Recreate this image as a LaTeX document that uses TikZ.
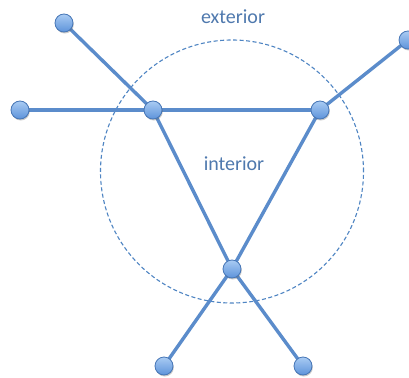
\documentclass[tikz,border=0pt]{standalone}
\usepackage{fontspec}
\setmainfont{Carlito}
\usetikzlibrary{shadows}
\definecolor{edgeblue}{HTML}{5B8CCB}
\definecolor{txtblue}{HTML}{4F79AE}
\definecolor{nodetop}{HTML}{A9CBF3}
\definecolor{nodebot}{HTML}{5D93DA}
\definecolor{nodeline}{HTML}{4676B6}
\definecolor{circblue}{HTML}{4F85C3}
\tikzset{
  vtx/.style={circle, minimum size=18pt, inner sep=0pt, draw=nodeline, line width=0.8pt,
    top color=nodetop, bottom color=nodebot,
    drop shadow={opacity=0.35, shadow xshift=0.8pt, shadow yshift=-1.5pt, fill=black!60}},
  edge/.style={draw=edgeblue, line width=3.4pt},
  ring/.style={draw=circblue, line width=1.1pt, dash pattern=on 4pt off 2.5pt},
  lbl/.style={text=txtblue, font=\fontsize{20}{24}\selectfont, inner sep=0pt}
}
\begin{document}
\begin{tikzpicture}[x=1pt, y=-1pt]
\useasboundingbox (0,0) rectangle (409,377);
\fill[white] (0,0) rectangle (409,377);
\node[ring, circle, minimum size=263pt, inner sep=0pt] (ring) at (232,171.5) {};
\node[lbl] (ext) at (233,17) {exterior};
\node[lbl] (int) at (234,164) {interior};
\coordinate (ptl) at (64,23);
\coordinate (pl) at (20,110);
\coordinate (pa) at (153,110);
\coordinate (pb) at (320,110);
\coordinate (ptr) at (408,40);
\coordinate (pc) at (232,269);
\coordinate (pbl) at (164,366);
\coordinate (pbr) at (303,366);
\path[edge] (ptl) -- (pa);
\path[edge] (pl) -- (pa);
\path[edge] (pa) -- (pb);
\path[edge] (pb) -- (ptr);
\path[edge] (pa) -- (pc);
\path[edge] (pb) -- (pc);
\path[edge] (pc) -- (pbl);
\path[edge] (pc) -- (pbr);
\node[vtx] (tl) at (ptl) {};
\node[vtx] (l) at (pl) {};
\node[vtx] (a) at (pa) {};
\node[vtx] (b) at (pb) {};
\node[vtx] (tr) at (ptr) {};
\node[vtx] (c) at (pc) {};
\node[vtx] (bl) at (pbl) {};
\node[vtx] (br) at (pbr) {};
\end{tikzpicture}
\end{document}
